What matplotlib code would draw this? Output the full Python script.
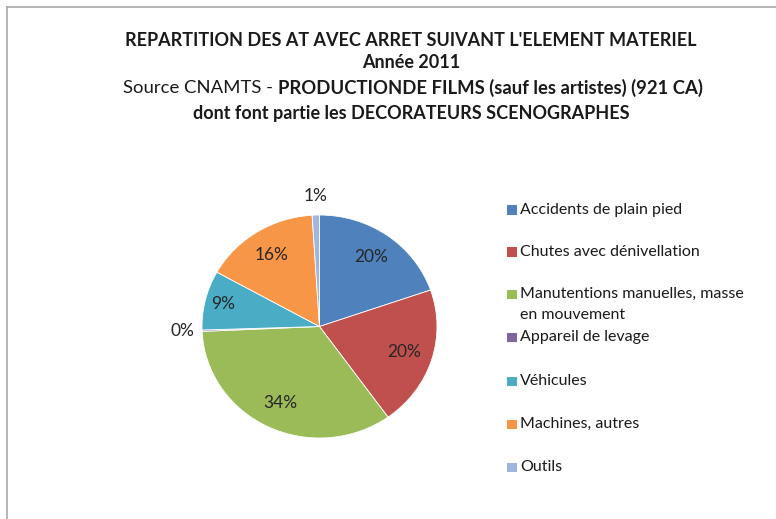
import numpy as np
import matplotlib.pyplot as plt
from matplotlib.lines import Line2D
from matplotlib.patches import Rectangle

categories = [
    "Accidents de plain pied",
    "Chutes avec dénivellation",
    "Manutentions manuelles, masse\nen mouvement",
    "Appareil de levage",
    "Véhicules",
    "Machines, autres",
    "Outils",
]
shares = [19.7, 20.4, 34.2, 0.2, 8.6, 15.9, 1.0]
colors = ["#4F81BD", "#C0504D", "#9BBB59", "#8064A2", "#4BACC6", "#F79646", "#A2B5DE"]

W, H = 776, 519
fig = plt.figure(figsize=(W / 100, H / 100), dpi=100)
plt.rcParams['font.family'] = ['Lato', 'DejaVu Sans']
ink = "#1a1a1a"

# chart frame
fig.add_artist(Line2D([7 / W, 7 / W], [0, 1 - 7 / H], color="#a8a8a8", lw=1.2))
fig.add_artist(Line2D([7 / W, 1], [1 - 7 / H, 1 - 7 / H], color="#a8a8a8", lw=1.2))

# pie spans x 202..437, y 215..438 (slightly wider than tall)
ax = fig.add_axes([202 / W, 1 - 438 / H, 235 / W, 223 / H])
wedges, _ = ax.pie(shares, colors=colors, startangle=90, counterclock=False,
                   wedgeprops=dict(edgecolor="white", linewidth=0.6))
ax.set_aspect('auto')
ax.set_xlim(-1, 1)
ax.set_ylim(-1, 1)
ax.axis('off')

for w, v in zip(wedges, shares):
    mid = np.deg2rad((w.theta1 + w.theta2) / 2)
    if v < 5:
        r = 1.17
    elif v < 10:
        r = 0.84
    else:
        r = 0.76
    ax.text(r * np.cos(mid), r * np.sin(mid), f"{v:.0f}%", ha='center', va='center',
            fontsize=12.5, color="#262626", clip_on=False)

# title block
cx = 411 / W
tsize = 13
fig.text(cx, 1 - 40 / H, "REPARTITION DES AT AVEC ARRET SUIVANT L'ELEMENT MATERIEL",
         ha='center', va='center', fontsize=tsize, fontweight='bold', color=ink)
fig.text(cx, 1 - 63 / H, "Année 2011", ha='center', va='center',
         fontsize=tsize, fontweight='bold', color=ink)

part1 = "Source CNAMTS - "
part2 = "PRODUCTIONDE FILMS (sauf les artistes) (921 CA)"
renderer = fig.canvas.get_renderer()
t1 = fig.text(0, 1 - 88 / H, part1, ha='left', va='center', fontsize=13.3, color=ink)
t2 = fig.text(0, 1 - 88 / H, part2, ha='left', va='center', fontsize=13.3,
              fontweight='bold', color=ink)
w1 = t1.get_window_extent(renderer).width
w2 = t2.get_window_extent(renderer).width
x0 = 413 - (w1 + w2) / 2
t1.set_x(x0 / W)
t2.set_x((x0 + w1) / W)

fig.text(cx, 1 - 114 / H, "dont font partie les DECORATEURS SCENOGRAPHES",
         ha='center', va='center', fontsize=tsize, fontweight='bold', color=ink)

# legend
legend_y = [210, 252, 294, 337, 381, 424, 467]
for lab, col, y in zip(categories, colors, legend_y):
    fig.add_artist(Rectangle((507 / W, 1 - (y + 4.5) / H), 10 / W, 9 / H,
                             facecolor=col, edgecolor='none'))
    for k, line in enumerate(lab.split("\n")):
        fig.text(520 / W, 1 - (y + 21 * k) / H, line, ha='left', va='center',
                 fontsize=11.5, color=ink)

fig.savefig("out.png", dpi=100)
